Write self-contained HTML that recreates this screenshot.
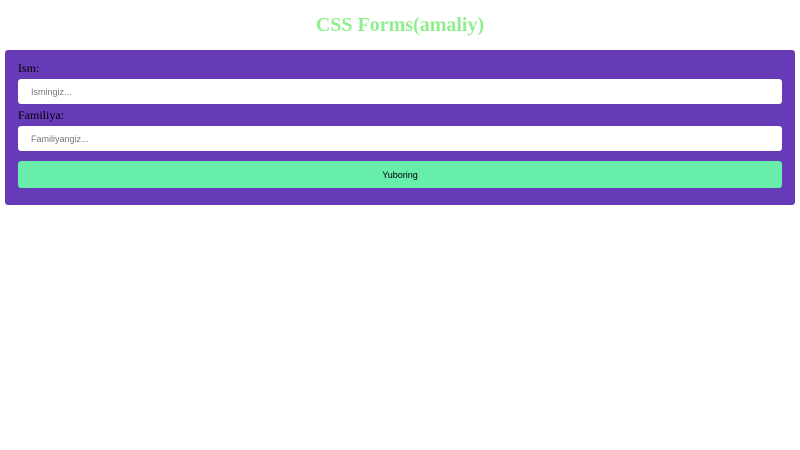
<!DOCTYPE html>
<html><head><style>
body{margin:0;width:800px;height:450px;background:#fff;font-family:"Liberation Serif",serif;position:relative;overflow:hidden}
h1{position:absolute;top:1px;left:0;width:800px;margin:0;text-align:center;font-size:20px;line-height:48px;color:#90ee90;font-weight:bold}
.panel{position:absolute;left:5px;top:50px;width:790px;height:155px;background:#673ab7;border-radius:3px}
.lbl{position:absolute;left:13px;font-size:12px;color:#000}
.inp{position:absolute;left:13px;width:764px;height:25px;background:#fff;border-radius:3px;font-family:"Liberation Sans",sans-serif;font-size:9px;color:#777;line-height:26px;text-indent:13px}
.btn{position:absolute;left:13px;top:111px;width:764px;height:27px;background:#66eeaa;border-radius:3px;font-family:"Liberation Sans",sans-serif;font-size:9px;color:#000;text-align:center;line-height:28px}
</style></head><body>
<h1>CSS Forms(amaliy)</h1>
<div class="panel">
<div class="lbl" style="top:11px">Ism:</div>
<div class="inp" style="top:29px">Ismingiz...</div>
<div class="lbl" style="top:58px">Familiya:</div>
<div class="inp" style="top:76px">Familiyangiz...</div>
<div class="btn">Yuboring</div>
</div>
</body></html>
